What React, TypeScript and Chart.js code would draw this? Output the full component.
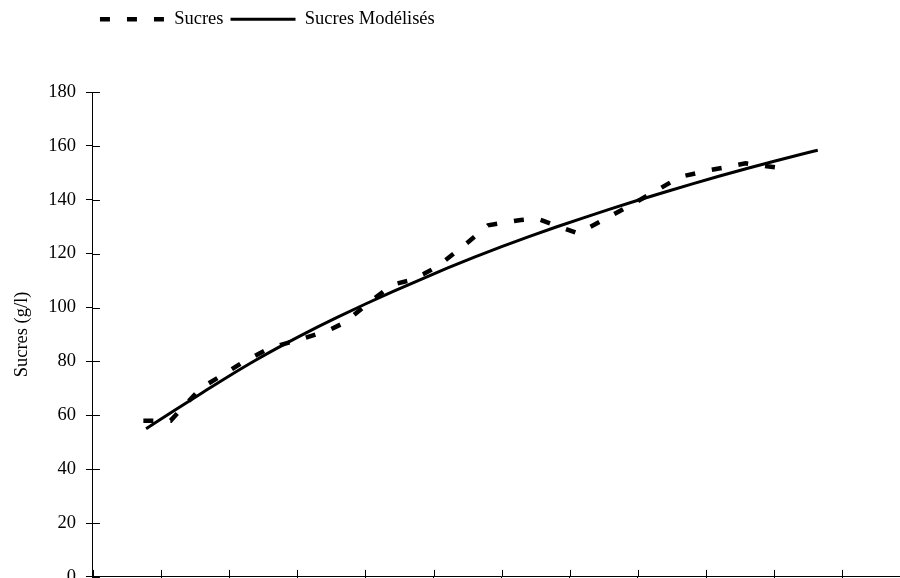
import React, { useEffect, useRef } from "react";
import { Chart, registerables } from "chart.js";

Chart.register(...registerables);

// Measured sugar (g/l) vs day
const sugarDays = [3.7, 5.7, 7.9, 10, 11.1, 13, 15.1, 17.3, 18.5, 20.3, 22, 23.2, 24.3, 25.2, 27, 29, 31.4, 32.6, 35.6, 38, 40, 43.1, 45.3, 47.9, 50.1];
const sugarValues = [58, 58, 70, 76.5, 80, 85, 88, 91.5, 94.5, 102, 108.5, 110, 112.5, 115, 122, 130.5, 132.5, 133, 127.5, 134, 139.5, 148.5, 151, 153.5, 152];

// Modelled sugar (g/l) vs day
const modelDays = [3.9, 6, 8, 10, 12, 14, 16, 18, 20, 22, 24, 26, 28, 30, 32, 34, 36, 38, 40, 42, 44, 46, 48, 50, 52, 53.2];
const modelValues = [55, 61.9, 68.3, 74.6, 80.6, 86.2, 91.5, 96.5, 101.3, 105.9, 110.3, 114.6, 118.7, 122.6, 126.3, 129.9, 133.3, 136.6, 139.8, 142.9, 145.9, 148.8, 151.6, 154.3, 156.9, 158.4];

const seriesLabels = ["Sucres", "Sucres Modélisés"];
const yTitle = "Sucres (g/l)";
const yMin = 0;
const yMax = 180;
const yStep = 20;
const xMin = 0;
const xMax = 60;
const xStep = 5;

const FONT = "'Liberation Serif', 'Times New Roman', serif";
const FS = 18.5;

const innerTicks = {
  id: "innerTicks",
  afterDraw(chart: any) {
    const { ctx, chartArea, scales } = chart;
    ctx.save();
    ctx.strokeStyle = "#000";
    ctx.lineWidth = 1;
    ctx.beginPath();
    scales.y.ticks.forEach((t: any) => {
      const y = Math.round(scales.y.getPixelForValue(t.value)) + 0.5;
      ctx.moveTo(chartArea.left, y);
      ctx.lineTo(chartArea.left + 7, y);
    });
    scales.x.ticks.forEach((t: any) => {
      const x = Math.round(scales.x.getPixelForValue(t.value)) + 0.5;
      ctx.moveTo(x, chartArea.bottom);
      ctx.lineTo(x, chartArea.bottom - 7);
    });
    ctx.stroke();
    ctx.restore();
  },
};

const legendSpacer = {
  id: "legendSpacer",
  afterInit(chart: any) {
    const lg = chart.legend;
    if (lg && !lg.__patched) {
      const f = lg.fit.bind(lg);
      lg.fit = () => {
        f();
        lg.height = 89;
      };
      lg.__patched = true;
    }
  },
};

export default function App() {
  const ref = useRef<HTMLCanvasElement | null>(null);

  useEffect(() => {
    if (!ref.current) return;
    const chart = new Chart(ref.current, {
      type: "line",
      data: {
        datasets: [
          {
            label: seriesLabels[0],
            data: sugarDays.map((d, i) => ({ x: d, y: sugarValues[i] })),
            borderColor: "#000",
            backgroundColor: "#000",
            borderWidth: 4.5,
            borderDash: [10, 17],
            borderCapStyle: "butt",
            pointRadius: 0,
            tension: 0,
          },
          {
            label: seriesLabels[1],
            data: modelDays.map((d, i) => ({ x: d, y: modelValues[i] })),
            borderColor: "#000",
            backgroundColor: "#000",
            borderWidth: 3,
            pointRadius: 0,
            cubicInterpolationMode: "monotone",
          },
        ],
      },
      options: {
        animation: false,
        responsive: false,
        devicePixelRatio: 1,
        layout: { padding: { top: 3, left: 7, right: 9.6, bottom: 0 } },
        plugins: {
          tooltip: { enabled: false },
          legend: {
            display: true,
            position: "top",
            align: "start",
            fullSize: false,
            labels: {
              usePointStyle: true,
              pointStyle: "line",
              pointStyleWidth: 65,
              padding: 7,
              color: "#000",
              font: { family: FONT, size: FS },
              generateLabels(chart: any) {
                const items = Chart.defaults.plugins.legend.labels.generateLabels(chart);
                return items.map((it: any) => {
                  const ds = chart.data.datasets[it.datasetIndex];
                  return {
                    ...it,
                    lineDash: ds.borderDash || [],
                    lineWidth: ds.borderWidth,
                    strokeStyle: ds.borderColor,
                    lineCap: "butt",
                    pointStyle: "line",
                  };
                });
              },
            },
          },
        },
        scales: {
          x: {
            type: "linear",
            min: xMin,
            max: xMax,
            ticks: { stepSize: xStep, display: false },
            grid: { drawOnChartArea: false, tickLength: 7, color: "#000", lineWidth: 1 },
            border: { color: "#000", width: 1 },
          },
          y: {
            min: yMin,
            max: yMax,
            ticks: {
              stepSize: yStep,
              color: "#000",
              padding: 10,
              font: { family: FONT, size: FS },
            },
            grid: { drawOnChartArea: false, tickLength: 7, color: "#000", lineWidth: 1 },
            border: { color: "#000", width: 1 },
            title: {
              display: true,
              text: yTitle,
              color: "#000",
              font: { family: FONT, size: FS },
              padding: { top: 4, bottom: 5 },
            },
          },
        },
      },
      plugins: [innerTicks, legendSpacer],
    });
    return () => chart.destroy();
  }, []);

  return (
    <div style={{ position: "absolute", left: 0, top: 0, width: 900, height: 578, overflow: "hidden", background: "#fff" }}>
      <canvas ref={ref} width={920} height={598} style={{ width: 920, height: 598, display: "block" }} />
    </div>
  );
}
